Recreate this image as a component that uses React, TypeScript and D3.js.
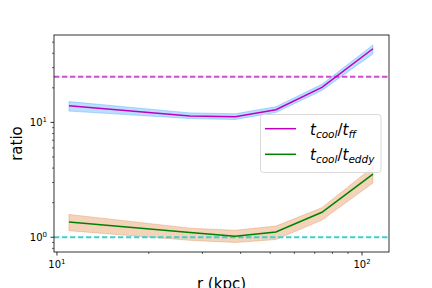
import React from "react";
import { scaleLog, line, area } from "d3";

// radius (kpc)
const radii = [10.95, 27.3, 38.4, 52.2, 73.9, 108.6];

// t_cool / t_ff
const ffMean = [13.96, 11.4, 11.2, 12.9, 20.2, 43.8];
const ffLow = [12.55, 10.8, 10.6, 12.2, 19.0, 39.5];
const ffHigh = [15.2, 12.1, 11.9, 13.7, 21.5, 47.2];

// t_cool / t_eddy
const eddyMean = [1.36, 1.1, 1.02, 1.11, 1.65, 3.54];
const eddyLow = [1.14, 0.94, 0.9, 0.955, 1.41, 2.97];
const eddyHigh = [1.58, 1.2, 1.15, 1.25, 1.81, 4.1];

// reference levels
const ffLevel = 25;
const eddyLevel = 1;

const xMajor = [10, 100];
const xMinor = [20, 30, 40, 50, 60, 70, 80, 90];
const yMajor = [1, 10];
const yMinor = [0.8, 0.9, 2, 3, 4, 5, 6, 7, 8, 9, 20, 30, 40, 50];

const W = 432;
const H = 288;
const left = 54;
const right = 389;
const top = 35;
const bottom = 252;

const font = "DejaVu Sans, sans-serif";

const Pow = ({ x, y, e, anchor }: { x: number; y: number; e: number; anchor: string }) => (
    <text x={x} y={y} fontSize={10} fontFamily={font} textAnchor={anchor} fill="#000">
        10
        <tspan fontSize={7} dy={-4}>{e}</tspan>
    </text>
);

const LegendLabel = ({ x, y, sub2 }: { x: number; y: number; sub2: string }) => (
    <text x={x} y={y} fontSize={15} fontFamily={font} fontStyle="italic" fill="#000">
        t
        <tspan fontSize={10.5} dy={3}>cool</tspan>
        <tspan fontSize={15} dy={-3} fontStyle="normal">/</tspan>
        t
        <tspan fontSize={10.5} dy={3}>{sub2}</tspan>
    </text>
);

export default function App() {
    const x = scaleLog().domain([9.78, 122.6]).range([left, right]);
    const y = scaleLog().domain([0.744, 57.7]).range([bottom, top]);

    const idx = radii.map((_, i) => i);
    const mk = (vals: number[]) =>
        line<number>()
            .x((i) => x(radii[i]))
            .y((i) => y(vals[i]))(idx) || "";
    const band = (lo: number[], hi: number[]) =>
        area<number>()
            .x((i) => x(radii[i]))
            .y0((i) => y(lo[i]))
            .y1((i) => y(hi[i]))(idx) || "";

    return (
        <svg
            width={W}
            height={H}
            style={{ position: "absolute", left: 0, top: 0, background: "#fff" }}
        >
            <defs>
                <clipPath id="plot">
                    <rect x={left} y={top} width={right - left} height={bottom - top} />
                </clipPath>
            </defs>

            <g clipPath="url(#plot)">
                <path d={band(ffLow, ffHigh)} fill="#1e90ff" fillOpacity={0.3} stroke="#1e90ff" strokeOpacity={0.3} />
                <path d={band(eddyLow, eddyHigh)} fill="#e0803c" fillOpacity={0.35} stroke="#e0803c" strokeOpacity={0.35} />
                <line
                    x1={left} x2={right} y1={y(ffLevel)} y2={y(ffLevel)}
                    stroke="#d04ad2" strokeWidth={1.9} strokeDasharray="5.4,2.6"
                />
                <line
                    x1={left} x2={right} y1={y(eddyLevel)} y2={y(eddyLevel)}
                    stroke="#40cfcc" strokeWidth={1.9} strokeDasharray="5.4,2.6"
                />
                <path d={mk(ffMean)} fill="none" stroke="#bf00bf" strokeWidth={1.5} />
                <path d={mk(eddyMean)} fill="none" stroke="#008000" strokeWidth={1.5} />
            </g>

            {/* ticks */}
            {xMajor.map((v, i) => (
                <g key={"xM" + v}>
                    <line x1={x(v)} x2={x(v)} y1={bottom} y2={bottom + 3.5} stroke="#000" strokeWidth={0.8} />
                    <Pow x={x(v)} y={bottom + 16} e={i + 1} anchor="middle" />
                </g>
            ))}
            {xMinor.map((v) => (
                <line key={"xm" + v} x1={x(v)} x2={x(v)} y1={bottom} y2={bottom + 2} stroke="#000" strokeWidth={0.6} />
            ))}
            {yMajor.map((v, i) => (
                <g key={"yM" + v}>
                    <line x1={left - 3.5} x2={left} y1={y(v)} y2={y(v)} stroke="#000" strokeWidth={0.8} />
                    <Pow x={left - 7} y={y(v) + 4} e={i} anchor="end" />
                </g>
            ))}
            {yMinor.map((v) => (
                <line key={"ym" + v} x1={left - 2} x2={left} y1={y(v)} y2={y(v)} stroke="#000" strokeWidth={0.6} />
            ))}

            <rect
                x={left} y={top} width={right - left} height={bottom - top}
                fill="none" stroke="#000" strokeWidth={0.8}
            />

            <text x={(left + right) / 2} y={289} fontSize={15} fontFamily={font} textAnchor="middle">
                r (kpc)
            </text>
            <text
                transform={`translate(22,${(top + bottom) / 2}) rotate(-90)`}
                fontSize={15} fontFamily={font} textAnchor="middle"
            >
                ratio
            </text>

            {/* legend */}
            <rect x={260.5} y={114.5} width={120.5} height={58} rx={3}
                fill="#fff" fillOpacity={0.8} stroke="#d0d0d0" strokeWidth={0.8} />
            <line x1={265} x2={296} y1={128.7} y2={128.7} stroke="#bf00bf" strokeWidth={1.5} />
            <LegendLabel x={310} y={134.5} sub2="ff" />
            <line x1={265} x2={296} y1={154.3} y2={154.3} stroke="#008000" strokeWidth={1.5} />
            <LegendLabel x={310} y={159.7} sub2="eddy" />
        </svg>
    );
}
